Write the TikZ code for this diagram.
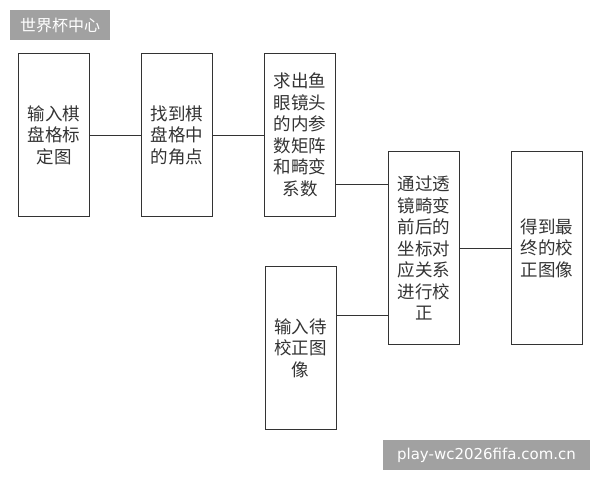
\documentclass[tikz,border=0pt]{standalone}
\usepackage{fontspec}
\setmainfont{Noto Sans CJK SC}
\newfontfamily\tagfont{DejaVu Sans}
\usetikzlibrary{positioning}

\begin{document}
\begin{tikzpicture}[
    x=1pt, y=-1pt,
    node distance=51pt,
    stepbox/.style={draw=black!80, line width=1pt, text=black!80, align=center,
        font=\fontsize{17.5}{21.5}\selectfont, minimum width=71pt, minimum height=163pt,
        inner sep=0pt},
    tallbox/.style={stepbox, minimum height=193pt},
    tag/.style={fill=black!37, text=white, inner sep=0pt, font=\fontsize{16}{18}\selectfont}
]
\useasboundingbox (0,0) rectangle (600,480);

\node[tag, minimum width=100pt, minimum height=30pt] (tagtop) at (60,25) {世界杯中心};

\node[stepbox] (input) at (54,135) {输入棋\\盘格标\\定图};
\node[stepbox, right=of input] (corners) {找到棋\\盘格中\\的角点};
\node[stepbox, right=of corners] (params) {求出鱼\\眼镜头\\的内参\\数矩阵\\和畸变\\系数};
\node[tallbox] (correct) at (424,248) {通过透\\镜畸变\\前后的\\坐标对\\应关系\\进行校\\正};
\node[tallbox, right=of correct] (result) {得到最\\终的校\\正图像};
\node[stepbox] (target) at (300.5,348) {输入待\\校正图\\像};

\coordinate (j1) at (0,184);
\coordinate (j2) at (0,315);

\draw[black!80, line width=1pt] (input) -- (corners);
\draw[black!80, line width=1pt] (corners) -- (params);
\draw[black!80, line width=1pt] (params.east |- j1) -- (correct.west |- j1);
\draw[black!80, line width=1pt] (target.east |- j2) -- (correct.west |- j2);
\draw[black!80, line width=1pt] (correct) -- (result);

\node[tag, font=\tagfont\fontsize{15}{18}\selectfont, minimum width=207pt, minimum height=30pt] (tagbottom) at (486.5,455) {play-wc2026fifa.com.cn};
\end{tikzpicture}
\end{document}
